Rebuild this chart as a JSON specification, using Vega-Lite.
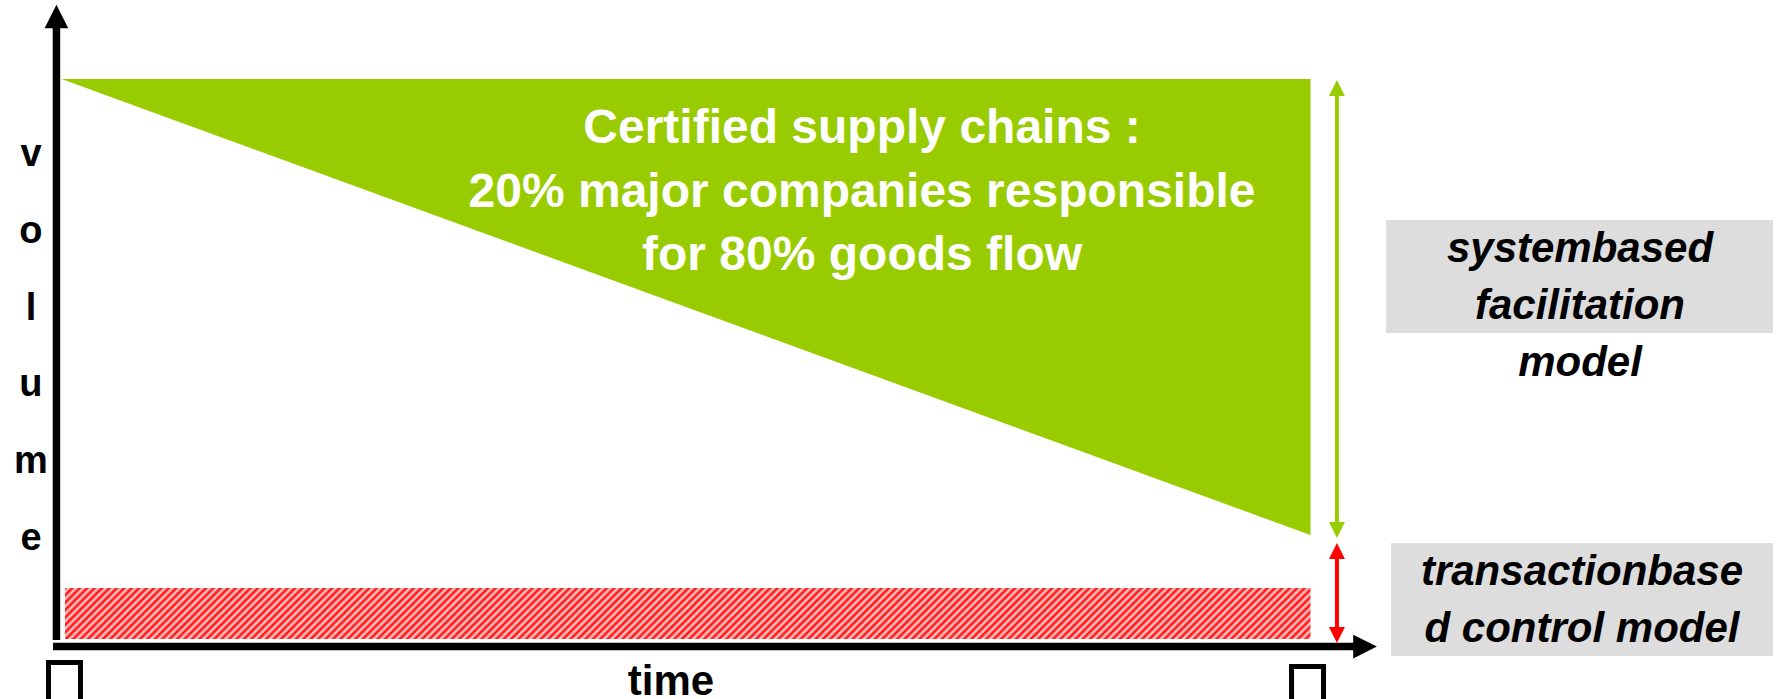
{
  "$schema": "https://vega.github.io/schema/vega-lite/v6.json",
  "width": 1777,
  "height": 699,
  "autosize": "none",
  "padding": 0,
  "background": "white",
  "config": {"view": {"stroke": null}},
  "encoding": {
    "x": {"field": "t", "type": "quantitative", "scale": {"domain": [-4.5, 137.2], "nice": false, "zero": false}, "axis": null},
    "y": {"field": "v", "type": "quantitative", "scale": {"domain": [-9.35, 113.93], "nice": false, "zero": false}, "axis": null}
  },
  "layer": [
    {
      "data": {"values": [
        {"model": "systembased facilitation model", "t": 106.02, "t2": 136.88, "v": 75.13, "v2": 55.2},
        {"model": "transactionbased control model", "t": 106.42, "t2": 136.88, "v": 18.16, "v2": -1.77}
      ]},
      "mark": {"type": "rect", "color": "#dddddd"},
      "encoding": {"x2": {"field": "t2"}, "y2": {"field": "v2"}}
    },
    {
      "data": {"values": [
        {"series": "certified supply chains", "t": 0.4, "v": 100, "v2": 100},
        {"series": "certified supply chains", "t": 100, "v": 100, "v2": 19.57}
      ]},
      "mark": {"type": "area", "color": "#99cc00", "opacity": 1},
      "encoding": {"y2": {"field": "v2"}}
    },
    {
      "data": {"values": [
        {"series": "transaction based", "t": 0.68, "t2": 100, "v": 10.23, "v2": 1.23}
      ]},
      "mark": {"type": "rect", "fill": {"gradient": "linear", "x1": 0, "y1": 0, "x2": 1.19, "y2": 0.0488, "stops": [
{"offset":0,"color":"#f00"},{"offset":0.0025,"color":"#ffd6d6"},{"offset":0.005,"color":"#f00"},{"offset":0.0075,"color":"#ffd6d6"},
{"offset":0.01,"color":"#f00"},{"offset":0.0125,"color":"#ffd6d6"},{"offset":0.015,"color":"#f00"},{"offset":0.0175,"color":"#ffd6d6"},
{"offset":0.02,"color":"#f00"},{"offset":0.0225,"color":"#ffd6d6"},{"offset":0.025,"color":"#f00"},{"offset":0.0275,"color":"#ffd6d6"},
{"offset":0.03,"color":"#f00"},{"offset":0.0325,"color":"#ffd6d6"},{"offset":0.035,"color":"#f00"},{"offset":0.0375,"color":"#ffd6d6"},
{"offset":0.04,"color":"#f00"},{"offset":0.0425,"color":"#ffd6d6"},{"offset":0.045,"color":"#f00"},{"offset":0.0475,"color":"#ffd6d6"},
{"offset":0.05,"color":"#f00"},{"offset":0.0525,"color":"#ffd6d6"},{"offset":0.055,"color":"#f00"},{"offset":0.0575,"color":"#ffd6d6"},
{"offset":0.06,"color":"#f00"},{"offset":0.0625,"color":"#ffd6d6"},{"offset":0.065,"color":"#f00"},{"offset":0.0675,"color":"#ffd6d6"},
{"offset":0.07,"color":"#f00"},{"offset":0.0725,"color":"#ffd6d6"},{"offset":0.075,"color":"#f00"},{"offset":0.0775,"color":"#ffd6d6"},
{"offset":0.08,"color":"#f00"},{"offset":0.0825,"color":"#ffd6d6"},{"offset":0.085,"color":"#f00"},{"offset":0.0875,"color":"#ffd6d6"},
{"offset":0.09,"color":"#f00"},{"offset":0.0925,"color":"#ffd6d6"},{"offset":0.095,"color":"#f00"},{"offset":0.0975,"color":"#ffd6d6"},
{"offset":0.10,"color":"#f00"},{"offset":0.1025,"color":"#ffd6d6"},{"offset":0.105,"color":"#f00"},{"offset":0.1075,"color":"#ffd6d6"},
{"offset":0.11,"color":"#f00"},{"offset":0.1125,"color":"#ffd6d6"},{"offset":0.115,"color":"#f00"},{"offset":0.1175,"color":"#ffd6d6"},
{"offset":0.12,"color":"#f00"},{"offset":0.1225,"color":"#ffd6d6"},{"offset":0.125,"color":"#f00"},{"offset":0.1275,"color":"#ffd6d6"},
{"offset":0.13,"color":"#f00"},{"offset":0.1325,"color":"#ffd6d6"},{"offset":0.135,"color":"#f00"},{"offset":0.1375,"color":"#ffd6d6"},
{"offset":0.14,"color":"#f00"},{"offset":0.1425,"color":"#ffd6d6"},{"offset":0.145,"color":"#f00"},{"offset":0.1475,"color":"#ffd6d6"},
{"offset":0.15,"color":"#f00"},{"offset":0.1525,"color":"#ffd6d6"},{"offset":0.155,"color":"#f00"},{"offset":0.1575,"color":"#ffd6d6"},
{"offset":0.16,"color":"#f00"},{"offset":0.1625,"color":"#ffd6d6"},{"offset":0.165,"color":"#f00"},{"offset":0.1675,"color":"#ffd6d6"},
{"offset":0.17,"color":"#f00"},{"offset":0.1725,"color":"#ffd6d6"},{"offset":0.175,"color":"#f00"},{"offset":0.1775,"color":"#ffd6d6"},
{"offset":0.18,"color":"#f00"},{"offset":0.1825,"color":"#ffd6d6"},{"offset":0.185,"color":"#f00"},{"offset":0.1875,"color":"#ffd6d6"},
{"offset":0.19,"color":"#f00"},{"offset":0.1925,"color":"#ffd6d6"},{"offset":0.195,"color":"#f00"},{"offset":0.1975,"color":"#ffd6d6"},
{"offset":0.20,"color":"#f00"},{"offset":0.2025,"color":"#ffd6d6"},{"offset":0.205,"color":"#f00"},{"offset":0.2075,"color":"#ffd6d6"},
{"offset":0.21,"color":"#f00"},{"offset":0.2125,"color":"#ffd6d6"},{"offset":0.215,"color":"#f00"},{"offset":0.2175,"color":"#ffd6d6"},
{"offset":0.22,"color":"#f00"},{"offset":0.2225,"color":"#ffd6d6"},{"offset":0.225,"color":"#f00"},{"offset":0.2275,"color":"#ffd6d6"},
{"offset":0.23,"color":"#f00"},{"offset":0.2325,"color":"#ffd6d6"},{"offset":0.235,"color":"#f00"},{"offset":0.2375,"color":"#ffd6d6"},
{"offset":0.24,"color":"#f00"},{"offset":0.2425,"color":"#ffd6d6"},{"offset":0.245,"color":"#f00"},{"offset":0.2475,"color":"#ffd6d6"},
{"offset":0.25,"color":"#f00"},{"offset":0.2525,"color":"#ffd6d6"},{"offset":0.255,"color":"#f00"},{"offset":0.2575,"color":"#ffd6d6"},
{"offset":0.26,"color":"#f00"},{"offset":0.2625,"color":"#ffd6d6"},{"offset":0.265,"color":"#f00"},{"offset":0.2675,"color":"#ffd6d6"},
{"offset":0.27,"color":"#f00"},{"offset":0.2725,"color":"#ffd6d6"},{"offset":0.275,"color":"#f00"},{"offset":0.2775,"color":"#ffd6d6"},
{"offset":0.28,"color":"#f00"},{"offset":0.2825,"color":"#ffd6d6"},{"offset":0.285,"color":"#f00"},{"offset":0.2875,"color":"#ffd6d6"},
{"offset":0.29,"color":"#f00"},{"offset":0.2925,"color":"#ffd6d6"},{"offset":0.295,"color":"#f00"},{"offset":0.2975,"color":"#ffd6d6"},
{"offset":0.30,"color":"#f00"},{"offset":0.3025,"color":"#ffd6d6"},{"offset":0.305,"color":"#f00"},{"offset":0.3075,"color":"#ffd6d6"},
{"offset":0.31,"color":"#f00"},{"offset":0.3125,"color":"#ffd6d6"},{"offset":0.315,"color":"#f00"},{"offset":0.3175,"color":"#ffd6d6"},
{"offset":0.32,"color":"#f00"},{"offset":0.3225,"color":"#ffd6d6"},{"offset":0.325,"color":"#f00"},{"offset":0.3275,"color":"#ffd6d6"},
{"offset":0.33,"color":"#f00"},{"offset":0.3325,"color":"#ffd6d6"},{"offset":0.335,"color":"#f00"},{"offset":0.3375,"color":"#ffd6d6"},
{"offset":0.34,"color":"#f00"},{"offset":0.3425,"color":"#ffd6d6"},{"offset":0.345,"color":"#f00"},{"offset":0.3475,"color":"#ffd6d6"},
{"offset":0.35,"color":"#f00"},{"offset":0.3525,"color":"#ffd6d6"},{"offset":0.355,"color":"#f00"},{"offset":0.3575,"color":"#ffd6d6"},
{"offset":0.36,"color":"#f00"},{"offset":0.3625,"color":"#ffd6d6"},{"offset":0.365,"color":"#f00"},{"offset":0.3675,"color":"#ffd6d6"},
{"offset":0.37,"color":"#f00"},{"offset":0.3725,"color":"#ffd6d6"},{"offset":0.375,"color":"#f00"},{"offset":0.3775,"color":"#ffd6d6"},
{"offset":0.38,"color":"#f00"},{"offset":0.3825,"color":"#ffd6d6"},{"offset":0.385,"color":"#f00"},{"offset":0.3875,"color":"#ffd6d6"},
{"offset":0.39,"color":"#f00"},{"offset":0.3925,"color":"#ffd6d6"},{"offset":0.395,"color":"#f00"},{"offset":0.3975,"color":"#ffd6d6"},
{"offset":0.40,"color":"#f00"},{"offset":0.4025,"color":"#ffd6d6"},{"offset":0.405,"color":"#f00"},{"offset":0.4075,"color":"#ffd6d6"},
{"offset":0.41,"color":"#f00"},{"offset":0.4125,"color":"#ffd6d6"},{"offset":0.415,"color":"#f00"},{"offset":0.4175,"color":"#ffd6d6"},
{"offset":0.42,"color":"#f00"},{"offset":0.4225,"color":"#ffd6d6"},{"offset":0.425,"color":"#f00"},{"offset":0.4275,"color":"#ffd6d6"},
{"offset":0.43,"color":"#f00"},{"offset":0.4325,"color":"#ffd6d6"},{"offset":0.435,"color":"#f00"},{"offset":0.4375,"color":"#ffd6d6"},
{"offset":0.44,"color":"#f00"},{"offset":0.4425,"color":"#ffd6d6"},{"offset":0.445,"color":"#f00"},{"offset":0.4475,"color":"#ffd6d6"},
{"offset":0.45,"color":"#f00"},{"offset":0.4525,"color":"#ffd6d6"},{"offset":0.455,"color":"#f00"},{"offset":0.4575,"color":"#ffd6d6"},
{"offset":0.46,"color":"#f00"},{"offset":0.4625,"color":"#ffd6d6"},{"offset":0.465,"color":"#f00"},{"offset":0.4675,"color":"#ffd6d6"},
{"offset":0.47,"color":"#f00"},{"offset":0.4725,"color":"#ffd6d6"},{"offset":0.475,"color":"#f00"},{"offset":0.4775,"color":"#ffd6d6"},
{"offset":0.48,"color":"#f00"},{"offset":0.4825,"color":"#ffd6d6"},{"offset":0.485,"color":"#f00"},{"offset":0.4875,"color":"#ffd6d6"},
{"offset":0.49,"color":"#f00"},{"offset":0.4925,"color":"#ffd6d6"},{"offset":0.495,"color":"#f00"},{"offset":0.4975,"color":"#ffd6d6"},
{"offset":0.50,"color":"#f00"},{"offset":0.5025,"color":"#ffd6d6"},{"offset":0.505,"color":"#f00"},{"offset":0.5075,"color":"#ffd6d6"},
{"offset":0.51,"color":"#f00"},{"offset":0.5125,"color":"#ffd6d6"},{"offset":0.515,"color":"#f00"},{"offset":0.5175,"color":"#ffd6d6"},
{"offset":0.52,"color":"#f00"},{"offset":0.5225,"color":"#ffd6d6"},{"offset":0.525,"color":"#f00"},{"offset":0.5275,"color":"#ffd6d6"},
{"offset":0.53,"color":"#f00"},{"offset":0.5325,"color":"#ffd6d6"},{"offset":0.535,"color":"#f00"},{"offset":0.5375,"color":"#ffd6d6"},
{"offset":0.54,"color":"#f00"},{"offset":0.5425,"color":"#ffd6d6"},{"offset":0.545,"color":"#f00"},{"offset":0.5475,"color":"#ffd6d6"},
{"offset":0.55,"color":"#f00"},{"offset":0.5525,"color":"#ffd6d6"},{"offset":0.555,"color":"#f00"},{"offset":0.5575,"color":"#ffd6d6"},
{"offset":0.56,"color":"#f00"},{"offset":0.5625,"color":"#ffd6d6"},{"offset":0.565,"color":"#f00"},{"offset":0.5675,"color":"#ffd6d6"},
{"offset":0.57,"color":"#f00"},{"offset":0.5725,"color":"#ffd6d6"},{"offset":0.575,"color":"#f00"},{"offset":0.5775,"color":"#ffd6d6"},
{"offset":0.58,"color":"#f00"},{"offset":0.5825,"color":"#ffd6d6"},{"offset":0.585,"color":"#f00"},{"offset":0.5875,"color":"#ffd6d6"},
{"offset":0.59,"color":"#f00"},{"offset":0.5925,"color":"#ffd6d6"},{"offset":0.595,"color":"#f00"},{"offset":0.5975,"color":"#ffd6d6"},
{"offset":0.60,"color":"#f00"},{"offset":0.6025,"color":"#ffd6d6"},{"offset":0.605,"color":"#f00"},{"offset":0.6075,"color":"#ffd6d6"},
{"offset":0.61,"color":"#f00"},{"offset":0.6125,"color":"#ffd6d6"},{"offset":0.615,"color":"#f00"},{"offset":0.6175,"color":"#ffd6d6"},
{"offset":0.62,"color":"#f00"},{"offset":0.6225,"color":"#ffd6d6"},{"offset":0.625,"color":"#f00"},{"offset":0.6275,"color":"#ffd6d6"},
{"offset":0.63,"color":"#f00"},{"offset":0.6325,"color":"#ffd6d6"},{"offset":0.635,"color":"#f00"},{"offset":0.6375,"color":"#ffd6d6"},
{"offset":0.64,"color":"#f00"},{"offset":0.6425,"color":"#ffd6d6"},{"offset":0.645,"color":"#f00"},{"offset":0.6475,"color":"#ffd6d6"},
{"offset":0.65,"color":"#f00"},{"offset":0.6525,"color":"#ffd6d6"},{"offset":0.655,"color":"#f00"},{"offset":0.6575,"color":"#ffd6d6"},
{"offset":0.66,"color":"#f00"},{"offset":0.6625,"color":"#ffd6d6"},{"offset":0.665,"color":"#f00"},{"offset":0.6675,"color":"#ffd6d6"},
{"offset":0.67,"color":"#f00"},{"offset":0.6725,"color":"#ffd6d6"},{"offset":0.675,"color":"#f00"},{"offset":0.6775,"color":"#ffd6d6"},
{"offset":0.68,"color":"#f00"},{"offset":0.6825,"color":"#ffd6d6"},{"offset":0.685,"color":"#f00"},{"offset":0.6875,"color":"#ffd6d6"},
{"offset":0.69,"color":"#f00"},{"offset":0.6925,"color":"#ffd6d6"},{"offset":0.695,"color":"#f00"},{"offset":0.6975,"color":"#ffd6d6"},
{"offset":0.70,"color":"#f00"},{"offset":0.7025,"color":"#ffd6d6"},{"offset":0.705,"color":"#f00"},{"offset":0.7075,"color":"#ffd6d6"},
{"offset":0.71,"color":"#f00"},{"offset":0.7125,"color":"#ffd6d6"},{"offset":0.715,"color":"#f00"},{"offset":0.7175,"color":"#ffd6d6"},
{"offset":0.72,"color":"#f00"},{"offset":0.7225,"color":"#ffd6d6"},{"offset":0.725,"color":"#f00"},{"offset":0.7275,"color":"#ffd6d6"},
{"offset":0.73,"color":"#f00"},{"offset":0.7325,"color":"#ffd6d6"},{"offset":0.735,"color":"#f00"},{"offset":0.7375,"color":"#ffd6d6"},
{"offset":0.74,"color":"#f00"},{"offset":0.7425,"color":"#ffd6d6"},{"offset":0.745,"color":"#f00"},{"offset":0.7475,"color":"#ffd6d6"},
{"offset":0.75,"color":"#f00"},{"offset":0.7525,"color":"#ffd6d6"},{"offset":0.755,"color":"#f00"},{"offset":0.7575,"color":"#ffd6d6"},
{"offset":0.76,"color":"#f00"},{"offset":0.7625,"color":"#ffd6d6"},{"offset":0.765,"color":"#f00"},{"offset":0.7675,"color":"#ffd6d6"},
{"offset":0.77,"color":"#f00"},{"offset":0.7725,"color":"#ffd6d6"},{"offset":0.775,"color":"#f00"},{"offset":0.7775,"color":"#ffd6d6"},
{"offset":0.78,"color":"#f00"},{"offset":0.7825,"color":"#ffd6d6"},{"offset":0.785,"color":"#f00"},{"offset":0.7875,"color":"#ffd6d6"},
{"offset":0.79,"color":"#f00"},{"offset":0.7925,"color":"#ffd6d6"},{"offset":0.795,"color":"#f00"},{"offset":0.7975,"color":"#ffd6d6"},
{"offset":0.80,"color":"#f00"},{"offset":0.8025,"color":"#ffd6d6"},{"offset":0.805,"color":"#f00"},{"offset":0.8075,"color":"#ffd6d6"},
{"offset":0.81,"color":"#f00"},{"offset":0.8125,"color":"#ffd6d6"},{"offset":0.815,"color":"#f00"},{"offset":0.8175,"color":"#ffd6d6"},
{"offset":0.82,"color":"#f00"},{"offset":0.8225,"color":"#ffd6d6"},{"offset":0.825,"color":"#f00"},{"offset":0.8275,"color":"#ffd6d6"},
{"offset":0.83,"color":"#f00"},{"offset":0.8325,"color":"#ffd6d6"},{"offset":0.835,"color":"#f00"},{"offset":0.8375,"color":"#ffd6d6"},
{"offset":0.84,"color":"#f00"},{"offset":0.8425,"color":"#ffd6d6"},{"offset":0.845,"color":"#f00"},{"offset":0.8475,"color":"#ffd6d6"},
{"offset":0.85,"color":"#f00"},{"offset":0.8525,"color":"#ffd6d6"},{"offset":0.855,"color":"#f00"},{"offset":0.8575,"color":"#ffd6d6"},
{"offset":0.86,"color":"#f00"},{"offset":0.8625,"color":"#ffd6d6"},{"offset":0.865,"color":"#f00"},{"offset":0.8675,"color":"#ffd6d6"},
{"offset":0.87,"color":"#f00"},{"offset":0.8725,"color":"#ffd6d6"},{"offset":0.875,"color":"#f00"},{"offset":0.8775,"color":"#ffd6d6"},
{"offset":0.88,"color":"#f00"}
      ]}},
      "encoding": {"x2": {"field": "t2"}, "y2": {"field": "v2"}}
    },
    {
      "data": {"values": [
        {"axis": "volume", "t": 0, "t2": 0, "v": 1.06, "v2": 109.34},
        {"axis": "time", "t": -0.27, "t2": 103.63, "v": -0.1, "v2": -0.1}
      ]},
      "mark": {"type": "rule", "color": "black", "strokeWidth": 7.5, "strokeCap": "butt"},
      "encoding": {"x2": {"field": "t2"}, "y2": {"field": "v2"}}
    },
    {
      "data": {"values": [
        {"axis": "volume", "dir": "up", "t": 0, "v": 111.02},
        {"axis": "time", "dir": "right", "t": 104.35, "v": -0.1}
      ]},
      "mark": {"type": "point", "filled": true, "color": "black", "opacity": 1, "size": 560, "strokeWidth": 0},
      "encoding": {"shape": {"field": "dir", "type": "nominal", "scale": {"domain": ["up", "down", "right"], "range": ["M0,-1L1,1L-1,1Z", "M0,1L1,-1L-1,-1Z", "M1,0L-1,-1L-1,1Z"]}, "legend": null}}
    },
    {
      "data": {"values": [
        {"model": "systembased facilitation", "t": 102.11, "v": 98.06, "v2": 20.81}
      ]},
      "mark": {"type": "rule", "color": "#99cc00", "strokeWidth": 4},
      "encoding": {"y2": {"field": "v2"}}
    },
    {
      "data": {"values": [
        {"model": "systembased facilitation", "dir": "up", "t": 102.11, "v": 98.41},
        {"model": "systembased facilitation", "dir": "down", "t": 102.11, "v": 20.46}
      ]},
      "mark": {"type": "point", "filled": true, "color": "#99cc00", "opacity": 1, "size": 256, "strokeWidth": 0},
      "encoding": {"shape": {"field": "dir", "type": "nominal", "legend": null}}
    },
    {
      "data": {"values": [
        {"model": "transactionbased control", "t": 102.11, "v": 16.57, "v2": 2.11}
      ]},
      "mark": {"type": "rule", "color": "#ff0000", "strokeWidth": 4},
      "encoding": {"y2": {"field": "v2"}}
    },
    {
      "data": {"values": [
        {"model": "transactionbased control", "dir": "up", "t": 102.11, "v": 16.75},
        {"model": "transactionbased control", "dir": "down", "t": 102.11, "v": 1.94}
      ]},
      "mark": {"type": "point", "filled": true, "color": "#ff0000", "opacity": 1, "size": 256, "strokeWidth": 0},
      "encoding": {"shape": {"field": "dir", "type": "nominal", "legend": null}}
    },
    {
      "data": {"values": [
        {"t": 64.24, "v": 91.14, "label": "Certified supply chains :\n20% major companies responsible\nfor 80% goods flow"}
      ]},
      "mark": {"type": "text", "color": "white", "font": "Liberation Sans", "fontSize": 48, "fontWeight": "bold", "align": "center", "baseline": "middle", "lineBreak": "\n", "lineHeight": 63.5},
      "encoding": {"text": {"field": "label"}}
    },
    {
      "data": {"values": [
        {"t": 121.49, "v": 70.01, "label": "systembased\nfacilitation\nmodel"},
        {"t": 121.65, "v": 13.05, "label": "transactionbase\nd control model"}
      ]},
      "mark": {"type": "text", "color": "black", "font": "Liberation Sans", "fontSize": 42, "fontWeight": "bold", "fontStyle": "italic", "align": "center", "baseline": "middle", "lineBreak": "\n", "lineHeight": 57},
      "encoding": {"text": {"field": "label"}}
    },
    {
      "data": {"values": [
        {"t": 49.01, "v": -8.64, "label": "time"}
      ]},
      "mark": {"type": "text", "color": "black", "font": "Liberation Sans", "fontSize": 42, "fontWeight": "bold", "align": "center", "baseline": "alphabetic"},
      "encoding": {"text": {"field": "label"}}
    },
    {
      "data": {"values": [
        {"t": -2.03, "v": 86.59, "label": "v\no\nl\nu\nm\ne"}
      ]},
      "mark": {"type": "text", "color": "black", "font": "Liberation Sans", "fontSize": 38, "fontWeight": "bold", "align": "center", "baseline": "middle", "lineBreak": "\n", "lineHeight": 76.8},
      "encoding": {"text": {"field": "label"}}
    },
    {
      "data": {"values": [
        {"marker": "start", "t": -0.633, "t2": 1.919, "v": -2.91, "v2": -14},
        {"marker": "end", "t": 98.49, "t2": 101.04, "v": -3.62, "v2": -14}
      ]},
      "mark": {"type": "rect", "fill": "white", "fillOpacity": 0, "stroke": "black", "strokeWidth": 5},
      "encoding": {"x2": {"field": "t2"}, "y2": {"field": "v2"}}
    }
  ]
}
